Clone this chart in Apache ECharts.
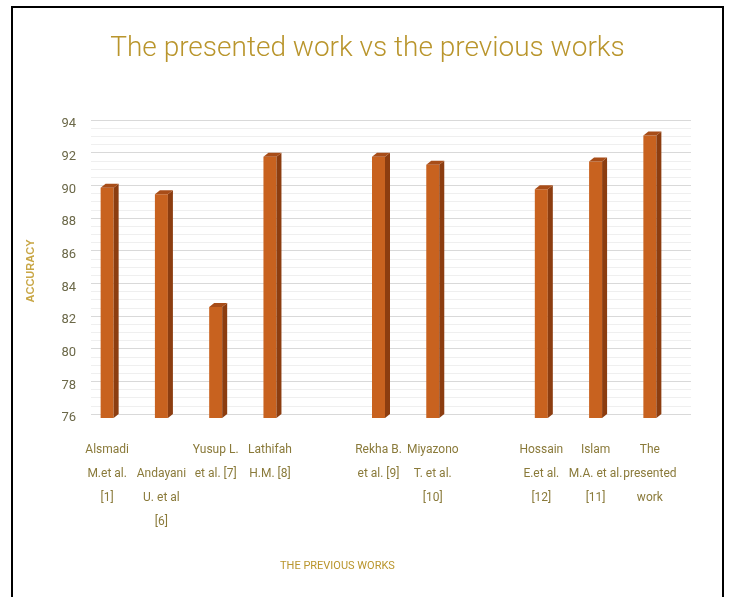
<!DOCTYPE html>
<html><head><meta charset="utf-8">
<script src="https://cdn.jsdelivr.net/npm/echarts@6/dist/echarts.min.js"></script>
<style>html,body{margin:0;padding:0;background:#fff}#c{width:735px;height:597px}</style>
</head><body><div id="c"></div>
<script>
const categories = [
  'Alsmadi\nM.et al.\n[1]',
  '\nAndayani\nU. et al\n[6]',
  'Yusup L.\net al. [7]',
  'Lathifah\nH.M. [8]',
  '',
  'Rekha B.\net al. [9]',
  'Miyazono\nT. et al.\n[10]',
  '',
  'Hossain\nE.et al.\n[12]',
  'Islam\nM.A. et al.\n[11]',
  'The\npresented\nwork'
];
const accuracy = [90.1, 89.7, 82.8, 92.0, null, 92.0, 91.5, null, 90.0, 91.7, 93.3];
const yTicks = [76, 94, 2];

const barData = [];
accuracy.forEach((v, i) => { if (v !== null) barData.push([i, v]); });

const narrow = '"DejaVu Sans Condensed", "Liberation Sans Narrow", Roboto, sans-serif';
const chart = echarts.init(document.getElementById('c'));
const labelColor = '#8a7a3a';
chart.setOption({
  backgroundColor: '#fff',
  animation: false,
  title: {
    text: 'The presented work vs the previous works',
    left: 'center', top: 30,
    textStyle: { fontFamily: 'Roboto', fontWeight: 300, fontSize: 28, color: '#b9952c' }
  },
  graphic: [
    { type: 'rect', shape: { x: 12, y: 7, width: 711, height: 600 }, style: { fill: 'none', stroke: '#000', lineWidth: 2 }, z: 100 },
    { type: 'text', left: 280, top: 561, style: { text: 'THE PREVIOUS WORKS', font: '11px Roboto', fill: '#b9952c' } }
  ],
  grid: [
    { left: 80, width: 597, top: 124, height: 294 },
    { left: 91, right: 44, top: 120, height: 294 }
  ],
  xAxis: [
    {
      type: 'category', data: categories, gridIndex: 0,
      axisLine: { show: false }, axisTick: { show: false },
      axisLabel: { interval: 0, margin: 20, color: labelColor, fontFamily: 'Roboto', fontSize: 12, lineHeight: 24, verticalAlign: 'top' }
    },
    { type: 'value', gridIndex: 1, show: false, min: 0, max: 1 }
  ],
  yAxis: [
    {
      type: 'value', gridIndex: 0, min: yTicks[0], max: yTicks[1], interval: yTicks[2],
      name: 'ACCURACY', nameLocation: 'middle', nameGap: 44,
      nameTextStyle: { color: '#c8a645', fontWeight: 'bold', fontSize: 11, fontFamily: 'Liberation Sans' },
      axisLine: { show: false }, axisTick: { show: false }, splitLine: { show: false },
      axisLabel: { margin: 4, color: '#6b6848', fontFamily: 'Roboto', fontSize: 13 }
    },
    {
      type: 'value', gridIndex: 1, min: yTicks[0], max: yTicks[1], interval: yTicks[2],
      axisLine: { show: false }, axisTick: { show: false }, axisLabel: { show: false },
      splitLine: { show: true, lineStyle: { color: '#d9d9d9', width: 1 } },
      minorTick: { show: false, splitNumber: 4 },
      minorSplitLine: { show: true, lineStyle: { color: '#efefef', width: 1 } }
    }
  ],
  series: [{
    type: 'custom', xAxisIndex: 0, yAxisIndex: 0, data: barData,
    renderItem: function (params, api) {
      const x = api.value(0), v = api.value(1);
      const t = api.coord([x, v]);
      const b = api.coord([x, yTicks[0]]);
      const w = 13, d = 5, dy = 4;
      const l = t[0] - w / 2;
      return {
        type: 'group',
        children: [
          { type: 'rect', shape: { x: l, y: t[1], width: w, height: b[1] - t[1] }, style: { fill: '#c8621f' } },
          { type: 'polygon', shape: { points: [[l + w, t[1]], [l + w + d, t[1] - dy], [l + w + d, b[1] - dy], [l + w, b[1]]] }, style: { fill: '#8c3d10' } },
          { type: 'polygon', shape: { points: [[l, t[1]], [l + d, t[1] - dy], [l + w + d, t[1] - dy], [l + w, t[1]]] }, style: { fill: '#a84d18' } }
        ]
      };
    }
  }]
});
</script></body></html>
